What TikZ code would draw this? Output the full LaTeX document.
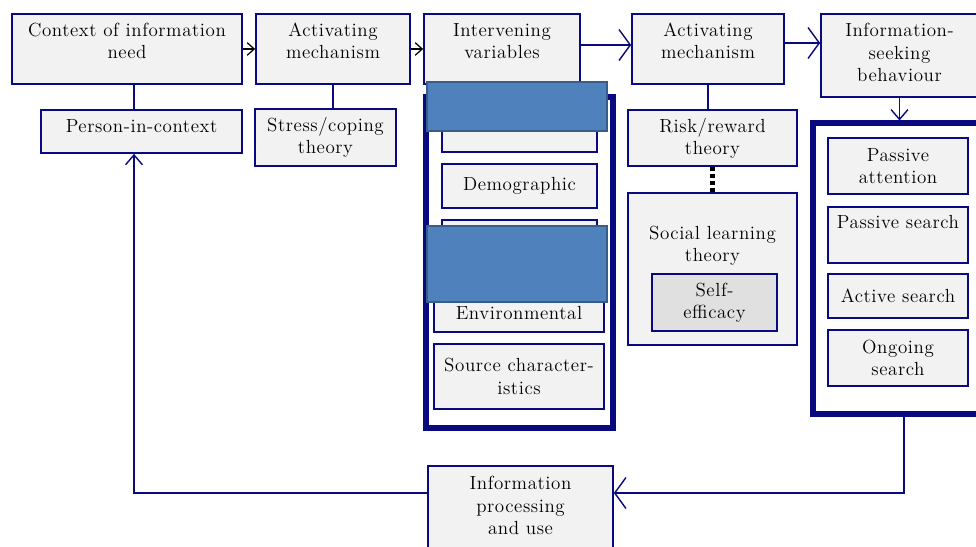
\documentclass[tikz,border=0pt]{standalone}
\usepackage{fontspec}
\setmainfont{Latin Modern Roman}[LetterSpace=3]
\usetikzlibrary{arrows.meta,positioning}
\definecolor{navyline}{RGB}{10,10,128}
\definecolor{boxfill}{RGB}{242,242,242}
\definecolor{selffill}{RGB}{224,224,224}
\definecolor{maskblue}{RGB}{79,129,189}
\definecolor{maskedge}{RGB}{56,93,138}
\newdimen\pxu \pxu=0.025cm
\newcommand{\lift}[1]{\rule[-#1]{0pt}{#1}}
\tikzset{
  wh/.style 2 args={minimum width=#1*\pxu, minimum height=#2*\pxu},
  box/.style={draw=navyline, line width=1.2pt, fill=boxfill, align=center, inner sep=1pt,
    font=\fontsize{13.5}{15.8}\selectfont},
  frame/.style={draw=navyline, line width=3.6pt},
  link/.style={navyline, line width=0.8pt},
  smallarrow/.style={black, line width=0.9pt, -{Straight Barb[length=5pt,width=9pt,line width=0.9pt]}},
  bigarrow/.style={navyline, line width=1.9pt, -{Straight Barb[length=8pt,width=22pt,line width=1pt]}},
  thinarrow/.style={navyline, line width=1pt, -{Straight Barb[length=7pt,width=12pt,line width=1pt]}}
}
\begin{document}
\begin{tikzpicture}[x=0.025cm, y=-0.025cm]
\useasboundingbox[fill=white] (0,0) rectangle (976,547);
% top row
\node[box, wh={230}{70}] (ctx) at (127,49) {Context of information\\need\lift{16\pxu}};
\node[box, wh={154}{70}] (act1) at (333,49) {Activating\\mechanism\lift{16\pxu}};
\node[box, wh={156}{70}] (inter) at (502,49) {Intervening\\variables\lift{16\pxu}};
\node[box, wh={152}{70}] (act2) at (708,49) {Activating\\mechanism\lift{16\pxu}};
\node[box, wh={157}{83}] (seek) at (899.5,55.5) {Information-\\seeking\\behaviour\lift{6\pxu}};
% theories
\node[box, wh={201}{43}] (person) at (141.5,131.5) {Person-in-context\lift{10\pxu}};
\node[box, wh={141}{57}] (stress) at (325.5,137.5) {Stress/coping\\theory};
\node[box, wh={169}{56}] (risk) at (712.5,138) {Risk/reward\\theory};
\node[box, wh={169}{152}] (social) at (712.5,269) {Social learning\\theory\lift{51\pxu}};
\node[box, fill=selffill, line width=2pt, wh={125}{57}] (self) at (714.5,302.5) {Self-\\efficacy};
% intervening variables
\node[frame, wh={187}{331}] (ivar) at (519.5,262.5) {};
\node[box, wh={155}{44}] (psych) at (519.5,130) {};
\node[box, wh={155}{44}] (demo) at (519.5,186) {Demographic};
\node[box, wh={155}{58}] (role) at (519.5,249) {};
\node[box, wh={170}{42}] (env) at (519,311) {\rule{0pt}{18\pxu}Environmental};
\node[box, wh={170}{65}] (source) at (519,376.5) {Source character-\\istics};
\filldraw[fill=maskblue, draw=maskedge, line width=1pt] (427,82) rectangle (607,131);
\filldraw[fill=maskblue, draw=maskedge, line width=1pt] (427,226) rectangle (607,302);
% search modes
\node[frame, wh={182}{291}] (modes) at (904,268.5) {};
\foreach \n/\y/\h/\t in {pa/166/56/{Passive\\attention}, ps/235/56/{Passive search\lift{26\pxu}},
    as/296/44/{Active search}, os/358/56/{Ongoing\\search}}
  \node[box, wh={140}{\h}] (\n) at (898,\y) {\t};
% processing
\node[box, wh={185}{90}] (proc) at (520.5,511) {Information\\processing\\and use\lift{11\pxu}};
% connectors
\coordinate (fb) at (134,493);
\draw[link] (fb |- ctx.south) -- (fb |- person.north);
\draw[link] (act1.south) -- (act1.south |- stress.north);
\draw[link] (act2.south) -- (act2.south |- risk.north);
\draw[line width=3pt, dotted] (risk.south) -- (social.north);
\draw[smallarrow] (ctx.east) -- (act1.west);
\draw[smallarrow] (act1.east) -- (inter.west);
\draw[bigarrow] ([yshift=4\pxu]inter.east) -- ([yshift=4\pxu]act2.west);
\draw[bigarrow] ([yshift=6\pxu]act2.east) -- ([yshift=6\pxu]act2.east -| seek.west);
\draw[thinarrow] (seek.south) -- (seek.south |- modes.north);
\draw[bigarrow] (modes.south) |- (proc.east |- fb);
\draw[thinarrow] (proc.west |- fb) -- (fb) -- (fb |- person.south);
\end{tikzpicture}
\end{document}
